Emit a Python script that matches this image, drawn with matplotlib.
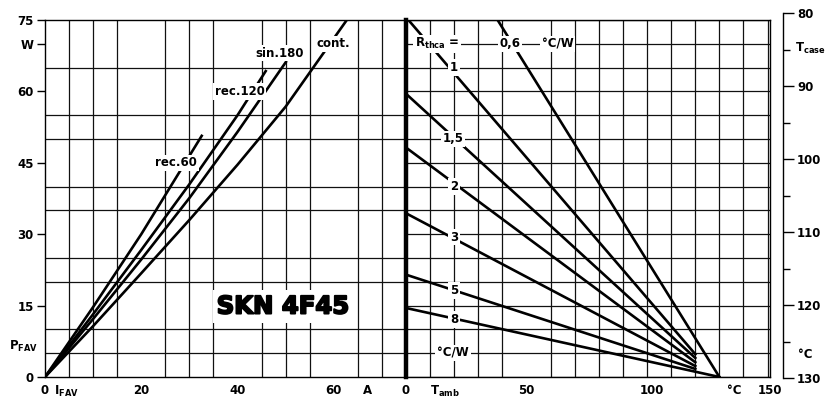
import numpy as np
import matplotlib
matplotlib.use('Agg')
from matplotlib import pyplot as plt
import matplotlib.patheffects as pe

plt.rcParams['font.family'] = ['DejaVu Sans']
plt.rcParams['font.weight'] = 'bold'
plt.rcParams['mathtext.default'] = 'regular'

# left part: P_FAV over I_FAV
cont_i = [0, 10, 20, 30, 40, 50, 62.7]
cont_p = [0, 10.7, 21.8, 33, 44.6, 56.8, 75]
sin180_i = [0, 10, 20, 30, 40, 50.2]
sin180_p = [0, 12.2, 24.7, 37.6, 51.5, 66.4]
rec120_i = [0, 10, 20, 30, 40, 46]
rec120_p = [0, 13.2, 26.7, 40.5, 55, 64.5]
rec60_i = [0, 10, 20, 32.7]
rec60_p = [0, 14.7, 30, 50.9]

curve_names = ['cont.', 'sin.180', 'rec.120', 'rec.60']
curve_label_pos = [(59.8, 70), (48.7, 68), (40.4, 60), (27.3, 45)]

# right part: P over T_amb for R_thca
rth_names = ['0,6', '1', '1,5', '2', '3', '5', '8']
rth_t0 = [38, 1, 0, 0, 0, 0, 0]
rth_p0 = [75, 75, 59.5, 48.2, 34.4, 21.5, 14.5]
rth_t1 = [130, 120, 120, 120, 120, 120, 130]
rth_p1 = [0, 4.8, 4.0, 3.1, 2.3, 1.7, 0]
rth_label_pos = [(43, 70), (20, 65), (19.5, 50), (20, 40), (20, 29.4), (20, 18.2), (20, 12.1)]

p_ticks = [0, 15, 30, 45, 60, 70, 75]
p_ticklabels = ['0', '15', '30', '45', '60', 'W', '75']
i_ticks = [0, 4.4, 20, 40, 60, 67]
i_ticklabels = ['0', '$I_{FAV}$', '20', '40', '60', 'A']
t_ticks = [0, 16, 50, 102, 136, 151]
t_ticklabels = ['0', '$T_{amb}$', '50', '100', '°C', '150']
tcase_major = [80, 90, 100, 110, 120, 130]
tcase_minor = [85, 95, 105, 115, 125]

fig = plt.figure(figsize=(8.3, 4.01), dpi=100)
axL = fig.add_axes([45/830, 24/401, 361/830, 357/401])
axR = fig.add_axes([406/830, 24/401, 364/830, 357/401])

box = dict(fc='white', ec='none', pad=1.2)

for ax, xmax, xstep in [(axL, 75, 5), (axR, 150, 10)]:
    ax.set_xlim(0, xmax)
    ax.set_ylim(0, 75)
    ax.set_xticks(np.arange(0, xmax + 1, xstep), minor=True)
    ax.set_yticks(np.arange(0, 76, 5), minor=True)
    ax.grid(which='minor', color='#111111', lw=0.9)
    ax.tick_params(which='minor', length=0)
    for s in ax.spines.values():
        s.set_linewidth(1)

axL.set_yticks(p_ticks)
axL.set_yticklabels(p_ticklabels)
axL.tick_params(axis='y', which='major', length=6, width=1, labelsize=8.5, pad=2)
axL.set_xticks(i_ticks)
axL.set_xticklabels(i_ticklabels)
axL.tick_params(axis='x', which='major', length=0, labelsize=8.5, pad=5)
axL.spines['right'].set_visible(False)

axR.set_yticks([])
axR.set_xticks(t_ticks)
axR.set_xticklabels(t_ticklabels)
axR.tick_params(axis='x', which='major', length=0, labelsize=8.5, pad=5)
axR.spines['left'].set_linewidth(3.2)

for xs, ys in [(cont_i, cont_p), (sin180_i, sin180_p), (rec120_i, rec120_p), (rec60_i, rec60_p)]:
    axL.plot(xs, ys, color='black', lw=1.9, zorder=3, solid_capstyle='butt')
for name, (x, y) in zip(curve_names, curve_label_pos):
    axL.text(x, y, name, fontsize=8.5, ha='center', va='center', bbox=box, zorder=5)

axL.text(-1.5, 6.5, '$P_{FAV}$', fontsize=8.5, ha='right', va='center')
axL.text(49.4, 14.8, 'SKN 4F45', fontsize=17.5, fontweight='heavy', ha='center', va='center',
         bbox=dict(fc='white', ec='none', pad=3), zorder=5,
         path_effects=[pe.withStroke(linewidth=1.4, foreground='black')])

for i in range(len(rth_names)):
    axR.plot([rth_t0[i], rth_t1[i]], [rth_p0[i], rth_p1[i]], color='black', lw=1.9, zorder=3)
    x, y = rth_label_pos[i]
    axR.text(x, y, rth_names[i], fontsize=8.5, ha='center', va='center', bbox=box, zorder=5)
axR.text(13, 70, '$R_{thca}$ =', fontsize=8.5, ha='center', va='center', bbox=box, zorder=5)
axR.text(63, 70, '°C/W', fontsize=8.5, ha='center', va='center', bbox=box, zorder=5)
axR.text(19.5, 5, '°C/W', fontsize=8.5, ha='center', va='center', bbox=box, zorder=5)

# T_case scale on the right
axT = fig.add_axes([783/830, 23/401, 0.0001, 365/401])
axT.patch.set_visible(False)
for k in ['top', 'bottom', 'left']:
    axT.spines[k].set_visible(False)
axT.spines['right'].set_linewidth(1)
axT.set_ylim(130, 80)
axT.set_xticks([])
axT.yaxis.tick_right()
axT.set_yticks(tcase_major)
axT.set_yticks(tcase_minor, minor=True)
axT.tick_params(axis='y', which='major', length=8, width=1, labelsize=8.5, pad=2)
axT.tick_params(axis='y', which='minor', length=5, width=1)
fig.text(810/830, 1 - 48/401, '$T_{case}$', fontsize=8.5, ha='center', va='center')
fig.text(805/830, 1 - 355/401, '°C', fontsize=8.5, ha='center', va='center')

fig.savefig('out.png', dpi=100)
